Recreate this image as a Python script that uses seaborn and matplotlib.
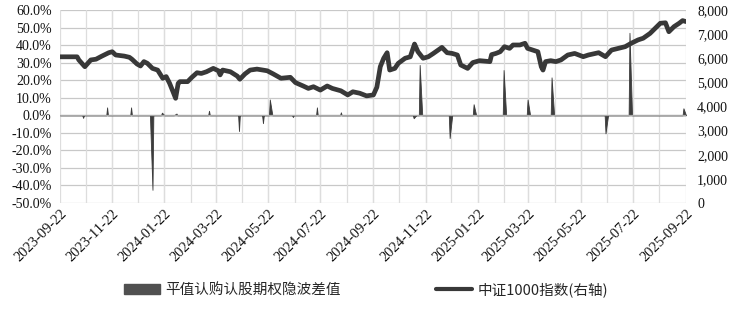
import numpy as np
import pandas as pd
import matplotlib
matplotlib.use("Agg")
import matplotlib.pyplot as plt
import matplotlib.ticker as mticker
from matplotlib.patches import Patch
from matplotlib.lines import Line2D
import seaborn as sns

# ---- data ----
index_dates = [
    "2023-09-22", "2023-10-12", "2023-10-14", "2023-10-21", "2023-10-28", "2023-11-03",
    "2023-11-10", "2023-11-18", "2023-11-22", "2023-11-26", "2023-12-06", "2023-12-12",
    "2023-12-15", "2023-12-21", "2023-12-25", "2023-12-29", "2024-01-02", "2024-01-08",
    "2024-01-14", "2024-01-20", "2024-01-24", "2024-01-28", "2024-02-01", "2024-02-04",
    "2024-02-07", "2024-02-09", "2024-02-18", "2024-02-23", "2024-02-29", "2024-03-05",
    "2024-03-11", "2024-03-19", "2024-03-25", "2024-03-27", "2024-03-30", "2024-04-08",
    "2024-04-16", "2024-04-19", "2024-04-25", "2024-05-01", "2024-05-09", "2024-05-16",
    "2024-05-21", "2024-05-28", "2024-06-06", "2024-06-17", "2024-06-23", "2024-07-02",
    "2024-07-08", "2024-07-14", "2024-07-22", "2024-07-30", "2024-08-05", "2024-08-15",
    "2024-08-23", "2024-08-29", "2024-09-06", "2024-09-14", "2024-09-22", "2024-09-26",
    "2024-09-30", "2024-10-04", "2024-10-08", "2024-10-11", "2024-10-17", "2024-10-21",
    "2024-10-29", "2024-11-04", "2024-11-09", "2024-11-13", "2024-11-19", "2024-11-25",
    "2024-12-01", "2024-12-11", "2024-12-17", "2024-12-23", "2024-12-29", "2025-01-02",
    "2025-01-10", "2025-01-16", "2025-01-24", "2025-02-05", "2025-02-07", "2025-02-12",
    "2025-02-17", "2025-02-22", "2025-02-28", "2025-03-04", "2025-03-12", "2025-03-18",
    "2025-03-21", "2025-03-27", "2025-04-02", "2025-04-06", "2025-04-08", "2025-04-11",
    "2025-04-17", "2025-04-23", "2025-04-29", "2025-05-07", "2025-05-15", "2025-05-25",
    "2025-05-31", "2025-06-12", "2025-06-20", "2025-06-27", "2025-07-05", "2025-07-13",
    "2025-07-20", "2025-07-28", "2025-08-03", "2025-08-11", "2025-08-17", "2025-08-23",
    "2025-08-29", "2025-09-02", "2025-09-08", "2025-09-14", "2025-09-18", "2025-09-22",
]
index_values = [
    6060, 6060, 5930, 5650, 5930, 5960,
    6090, 6230, 6270, 6135, 6090, 6040,
    5960, 5760, 5680, 5860, 5790, 5580,
    5510, 5170, 5240, 4960, 4610, 4340,
    4960, 5030, 5030, 5210, 5400, 5370,
    5440, 5580, 5480, 5310, 5510, 5440,
    5260, 5130, 5350, 5510, 5550, 5510,
    5480, 5350, 5170, 5210, 4990, 4850,
    4750, 4820, 4680, 4850, 4750, 4650,
    4480, 4610, 4550, 4440, 4480, 4800,
    5650, 6000, 6230, 5510, 5580, 5790,
    6000, 6060, 6590, 6270, 6000, 6060,
    6200, 6450, 6230, 6200, 6135, 5720,
    5580, 5820, 5900, 5860, 6150, 6200,
    6270, 6480, 6410, 6550, 6550, 6620,
    6410, 6340, 6270, 5650, 5510, 5860,
    5900, 5860, 5930, 6135, 6200, 6065,
    6135, 6230, 6065, 6340, 6410, 6480,
    6620, 6760, 6830, 7030, 7240, 7450,
    7470, 7100, 7310, 7450, 7560, 7520,
]

spread_dates = [
    "2023-10-19", "2023-11-16", "2023-12-14", "2024-01-08", "2024-01-19", "2024-02-05",
    "2024-03-14", "2024-04-18", "2024-05-16", "2024-05-24", "2024-06-20", "2024-07-18",
    "2024-08-15", "2024-11-08", "2024-11-15", "2024-12-20", "2025-01-17", "2025-02-21",
    "2025-03-21", "2025-04-18", "2025-06-20", "2025-07-18", "2025-09-19",
]
spread_values = [
    -1.5, 4.5, 4.5, -42.5, 1.5, 1.0,
    2.6, -9.0, -4.5, 9.0, -1.0, 4.5,
    1.7, -1.7, 28.7, -13.0, 6.3, 25.8,
    9.0, 21.6, -10.3, 47.0, 4.0,
]

x_start = "2023-09-22"
x_end = "2025-09-22"
tick_labels = ["2023-09-22", "2023-11-22", "2024-01-22", "2024-03-22", "2024-05-22",
               "2024-07-22", "2024-09-22", "2024-11-22", "2025-01-22", "2025-03-22",
               "2025-05-22", "2025-07-22", "2025-09-22"]

# ---- frames ----
idx_df = pd.DataFrame({"date": pd.to_datetime(index_dates), "value": index_values})
days = pd.bdate_range(x_start, x_end)
spread = pd.Series(0.0, index=days)
for d, v in zip(pd.to_datetime(spread_dates), spread_values):
    spread.loc[d] = v
spr_df = pd.DataFrame({"date": spread.index, "value": spread.values / 100.0})

# ---- plot ----
sns.set_theme(style="white")
plt.rcParams["font.family"] = ["Liberation Serif", "Noto Sans CJK SC", "DejaVu Sans"]

fig = plt.figure(figsize=(7.36, 3.09), dpi=100)
ax = fig.add_axes([60 / 736, 106 / 309, 626 / 736, 193 / 309])
ax2 = ax.twinx()

area_color = "#3c3c3c"
line_color = "#383838"

ax.fill_between(spr_df["date"], spr_df["value"], 0, color=area_color, linewidth=0.6,
                edgecolor=area_color)
ax.set_ylim(-0.5, 0.6)
ax.yaxis.set_major_locator(mticker.MultipleLocator(0.1))
ax.yaxis.set_major_formatter(mticker.FuncFormatter(lambda v, p: f"{v * 100:.1f}%"))

sns.lineplot(data=idx_df, x="date", y="value", ax=ax2, color=line_color, linewidth=3.4,
             legend=False)
ax2.set_ylim(0, 8000)
ax2.yaxis.set_major_locator(mticker.MultipleLocator(1000))
ax2.yaxis.set_major_formatter(mticker.FuncFormatter(lambda v, p: f"{int(v):,}"))
ax2.set_ylabel("")
ax2.set_xlabel("")
ax.set_xlabel("")
ax.set_ylabel("")

ax.set_xlim(pd.Timestamp(x_start), pd.Timestamp(x_end))
ax.set_xticks(pd.to_datetime(tick_labels))
ax.set_xticklabels(tick_labels, rotation=45, ha="right", rotation_mode="anchor",
                   fontsize=10.5)
minor = pd.date_range("2023-10-01", "2025-08-01", freq="MS") + pd.Timedelta(days=21)
ax.set_xticks(minor, minor=True)

# grid
ax.grid(False)
ax2.grid(False)
for y in np.arange(-0.5, 0.61, 0.1):
    ax.axhline(y, color="#c8c8c8", linewidth=0.9, zorder=0)
for d in list(pd.to_datetime(tick_labels)) + list(minor):
    ax.axvline(d, color="#dddddd", linewidth=0.9, zorder=0)
ax.axhline(0, color="#a8a8a8", linewidth=0.9, zorder=1)

for a in (ax, ax2):
    for s in a.spines.values():
        s.set_visible(False)
    a.tick_params(axis="both", length=0, labelsize=10, colors="#111111")
ax.tick_params(axis="x", labelsize=10.5, pad=3)
ax.tick_params(axis="y", pad=6)
ax2.tick_params(axis="y", pad=8)
ax.set_zorder(ax2.get_zorder() - 1)
ax.patch.set_visible(True)
ax.patch.set_facecolor("white")
ax2.patch.set_visible(False)

handles = [Patch(facecolor="#505050", edgecolor="#505050"),
           Line2D([0], [0], color=line_color, linewidth=3)]
labels = ["平值认购认股期权隐波差值", "中证1000指数(右轴)"]
fig.legend(handles, labels, loc="center", bbox_to_anchor=(0.497, 19 / 309), ncol=2,
           frameon=False, columnspacing=6.5, handlelength=2.5, handletextpad=0.35,
           prop={"family": ["Noto Sans CJK SC", "DejaVu Sans"], "size": 10.5})

fig.savefig("out.png", dpi=100)
